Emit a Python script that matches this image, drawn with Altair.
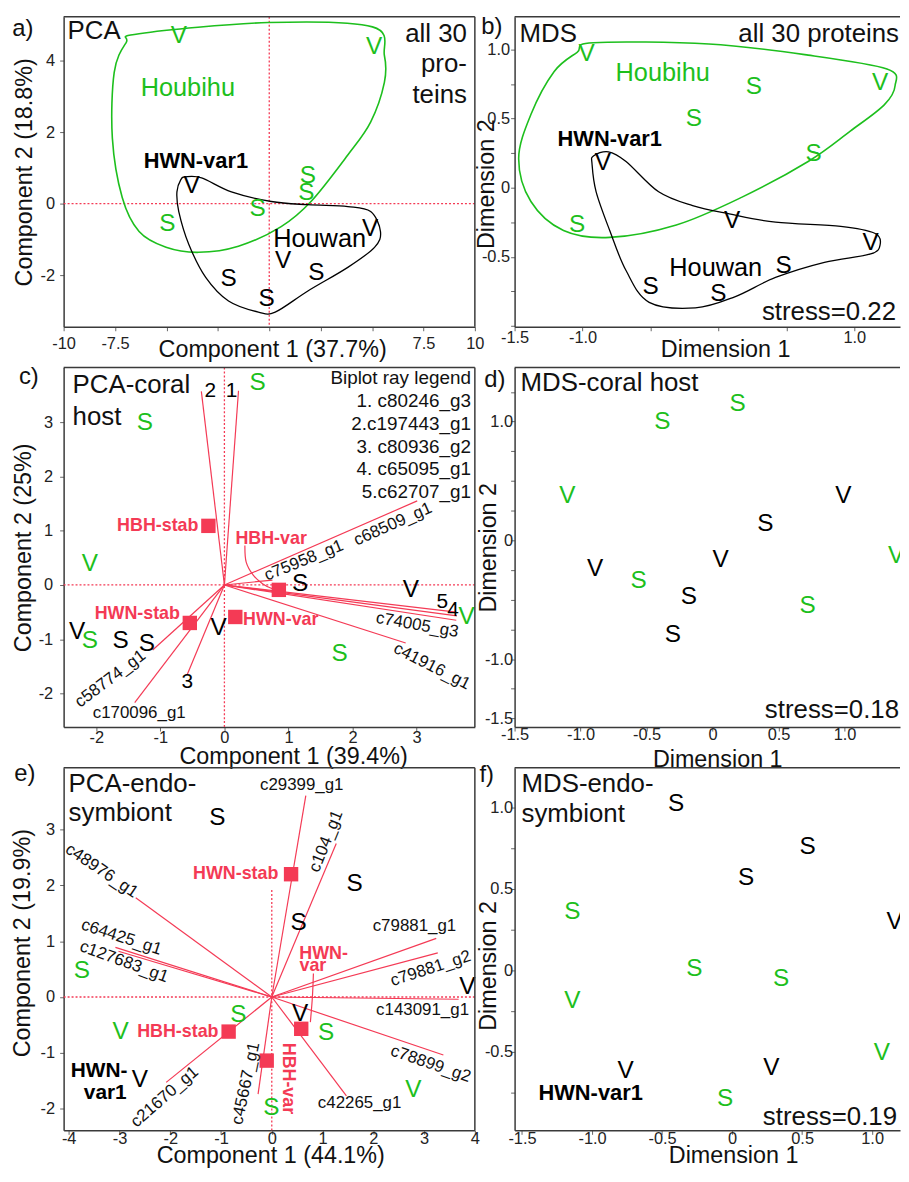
import altair as alt
import pandas as pd

FONT = "Liberation Sans, Arial, sans-serif"
GREEN = "#1dbf1d"
RED = "#f43a55"
INK = "#111111"

LW, RW = 414, 388
H1, H2, H3 = 312, 362, 365

GRP = ["Houbihu"] * 6 + ["Houwan"] * 6

# ---------------- panel a : PCA all 30 proteins
a_lab = ["V", "V", "S", "S", "S", "S", "V", "V", "V", "S", "S", "S"]
a_x = [-4.40, 5.10, 1.88, 1.80, -0.56, -4.96, -3.78, 4.91, 0.68, -1.98, 2.29, -0.13]
a_y = [4.69, 4.37, 0.76, 0.30, -0.14, -0.56, 0.48, -0.72, -1.60, -2.11, -1.93, -2.67]
a_green_x = [-6.33, -0.05, 5.02, 5.60, 5.60, 4.93, 3.82, 2.03, 0.58, -1.50, -3.43, -5.02, -6.33, -7.15, -7.63, -7.54, -6.96]
a_green_y = [4.75, 5.06, 4.94, 4.14, 3.39, 2.28, 1.36, 0.06, -0.64, -1.19, -1.36, -1.22, -0.78, 0.17, 1.83, 3.67, 4.50]
a_black_x = [-4.06, -3.29, -1.84, 0.10, 1.88, 3.82, 4.93, 5.41, 5.12, 3.82, 1.88, 0.29, -0.53, -1.98, -3.09, -3.91, -4.40, -4.49, -4.30]
a_black_y = [0.75, 0.72, 0.33, 0.06, -0.03, -0.08, -0.22, -0.78, -1.22, -1.78, -2.44, -3.03, -3.03, -2.72, -2.06, -1.14, -0.22, 0.33, 0.67]
a_ann = ["Houbihu", "HWN-var1", "Houwan"]
a_ann_x = [-3.96, -3.57, 2.45]
a_ann_y = [3.22, 1.19, -1.00]

# ---------------- panel b : MDS all 30 proteins
b_lab = ["V", "S", "V", "S", "S", "S", "V", "V", "V", "S", "S", "S"]
b_x = [-0.97, 0.26, 1.19, -0.18, 0.70, -1.04, -0.85, 0.10, 1.12, 0.48, -0.50, 0.00]
b_y = [0.97, 0.73, 0.76, 0.50, 0.24, -0.27, 0.18, -0.24, -0.40, -0.57, -0.72, -0.77]
b_green_x = [-1.04, -0.92, -0.07, 0.66, 1.24, 1.30, 1.22, 0.97, 0.66, 0.17, -0.31, -0.80, -1.14, -1.38, -1.47, -1.38, -1.21]
b_green_y = [0.98, 1.05, 1.04, 0.96, 0.86, 0.74, 0.60, 0.41, 0.19, -0.07, -0.27, -0.36, -0.31, -0.10, 0.21, 0.53, 0.84]
b_black_x = [-0.92, -0.81, -0.68, -0.44, -0.19, 0.08, 0.42, 0.90, 1.15, 1.19, 1.12, 0.78, 0.42, 0.12, -0.17, -0.51, -0.68, -0.80, -0.90, -0.93]
b_black_y = [0.23, 0.26, 0.19, -0.03, -0.13, -0.19, -0.25, -0.28, -0.33, -0.41, -0.48, -0.54, -0.65, -0.79, -0.87, -0.83, -0.60, -0.31, -0.03, 0.17]
b_ann = ["Houbihu", "HWN-var1", "Houwan"]
b_ann_x = [-0.41, -0.80, -0.02]
b_ann_y = [0.83, 0.35, -0.58]

# ---------------- panel c : PCA coral host
c_lab = ["S", "S", "V", "S", "S", "V", "V", "S", "S", "V", "S", "V"]
c_x = [0.52, -1.24, -2.10, -2.10, 1.80, 3.78, -2.30, -1.62, -1.21, -0.09, 1.18, 2.91]
c_y = [3.72, 2.99, 0.39, -1.04, -1.28, -0.59, -0.86, -1.04, -1.09, -0.80, 0.02, -0.10]
c_ray_x = [0.22, -0.36, 3.01, 0.75, 3.62, 3.63, 3.62, 2.83, -1.12, -1.40, -0.58]
c_ray_y = [3.58, 3.57, 1.55, 0.09, -0.50, -0.57, -0.65, -1.07, -1.20, -2.17, -1.65]
c_num = ["1", "2", "5", "4", "3"]
c_num_x = [0.11, -0.22, 3.40, 3.57, -0.58]
c_num_y = [3.57, 3.57, -0.31, -0.46, -1.79]
c_name = ["c68509_g1", "c75958_g1", "c74005_g3", "c41916_g1", "c58774_g1", "c170096_g1"]
c_name_x = [2.63, 1.24, 3.01, 3.24, -1.78, -1.33]
c_name_y = [1.12, 0.45, -0.74, -1.50, -1.73, -2.37]
c_name_ang = [336, 338, 10, 27, 323, 0]
c_sq = ["HBH-stab", "HBH-var", "HWN-stab", "HWN-var"]
c_sq_x = [-0.25, 0.85, -0.54, 0.17]
c_sq_y = [1.09, -0.09, -0.70, -0.59]
c_sq_lab_x = [-1.04, 0.73, -1.36, 0.88]
c_sq_lab_y = [1.09, 0.85, -0.53, -0.65]
c_lead_x = [0.32, 0.34, 0.45, 0.60, 0.75]
c_lead_y = [0.73, 0.42, 0.18, 0.02, -0.07]
c_legend = ["Biplot ray legend", "1. c80246_g3", "2.c197443_g1", "3. c80936_g2", "4. c65095_g1", "5.c62707_g1"]

# ---------------- panel d : MDS coral host
d_lab = ["S", "S", "V", "S", "S", "V", "V", "S", "S", "V", "S", "V"]
d_x = [-0.38, 0.19, -1.10, -0.56, 0.72, 1.39, -0.89, -0.18, -0.30, 0.06, 0.40, 0.99]
d_y = [1.00, 1.15, 0.37, -0.34, -0.55, -0.13, -0.24, -0.48, -0.80, -0.17, 0.14, 0.37]

# ---------------- panel e : PCA endosymbiont
e_lab = ["S", "S", "S", "V", "V", "S", "S", "S", "S", "V", "V", "V"]
e_x = [-3.74, -0.66, 1.07, -2.98, 2.79, -0.01, -1.07, 1.63, 0.53, 3.85, 0.56, -2.60]
e_y = [0.47, -0.33, -0.65, -0.63, -1.66, -1.99, 3.21, 2.02, 1.33, 0.17, -0.30, -1.48]
e_ray = ["c29399_g1", "c104_g1", "c48976_g1", "c64425_g1", "c127683_g1", "c79881_g1",
         "c79881_g2", "c143091_g1", "c78899_g2", "c42265_g1", "c45667_g1", "c21670_g1"]
e_ray_x = [0.67, 1.27, -2.68, -3.08, -3.02, 3.24, 3.27, 3.68, 3.38, 1.47, -0.27, -2.08]
e_ray_y = [3.61, 2.75, 1.78, 0.89, 0.82, 1.05, 0.79, -0.04, -1.04, -1.77, -1.74, -1.53]
e_lab_x = [0.59, 1.07, -3.35, -2.96, -2.91, 2.81, 3.13, 2.97, 3.13, 1.73, -0.51, -2.11]
e_lab_y = [3.80, 2.79, 2.26, 1.07, 0.63, 1.27, 0.51, -0.23, -1.20, -1.90, -1.55, -1.79]
e_lab_ang = [0, 292, 34, 18, 20, 0, 342, 0, 19, 0, 282, 319]
e_sq_x = [0.38, 0.58, -0.85, -0.10]
e_sq_y = [2.20, -0.57, -0.62, -1.14]
e_red = ["HWN-stab", "HWN-", "var", "HBH-stab", "HBH-var"]
e_red_x = [-0.71, 1.02, 0.81, -1.85, 0.32]
e_red_y = [2.20, 0.77, 0.55, -0.62, -1.46]
e_red_ang = [0, 0, 0, 0, 90]
e_lead_x = [0.82, 0.80, 0.76]
e_lead_y = [0.42, 0.00, -0.45]
e_bold = ["HWN-", "var1"]
e_bold_x = [-3.40, -3.28]
e_bold_y = [-1.32, -1.73]

# ---------------- panel f : MDS endosymbiont
f_lab = ["S", "S", "S", "V", "V", "S", "S", "S", "S", "V", "V", "V"]
f_x = [-1.14, -0.27, 0.35, -1.14, 1.07, -0.05, -0.40, 0.54, 0.10, 1.16, -0.76, 0.28]
f_y = [0.36, 0.01, -0.05, -0.19, -0.51, -0.79, 1.02, 0.76, 0.57, 0.30, -0.62, -0.60]


# ================= helpers
def lexpr(d):
    parts = [f"datum.value == {v} ? '{s}'" for v, s in d.items()]
    return " : ".join(parts) + " : ''"


def xaxis(vals, labs, title, tx, ty, pad):
    return alt.Axis(values=vals, labelExpr=lexpr(labs), title=title, titleX=tx, titleY=ty,
                    titleBaseline="middle", titleAlign="center", labelPadding=pad,
                    labelFlush=False, labelOverlap=False, grid=False)


def yaxis(vals, labs, title, tx, pad, ty=None):
    kw = dict(values=vals, labelExpr=lexpr(labs), title=title, titleX=tx,
              titleBaseline="middle", titleAlign="center", labelPadding=pad,
              labelFlush=False, labelOverlap=False, grid=False)
    if ty is not None:
        kw["titleY"] = ty
    return alt.Axis(**kw)


class Panel:
    def __init__(self, xdom, ydom, xax, yax, w, h, clip=False):
        self.xdom, self.ydom, self.xax, self.yax, self.w, self.h = xdom, ydom, xax, yax, w, h
        self.clip = clip
        self.layers = []

    def X(self, f):
        return alt.X(f, type="quantitative", axis=self.xax,
                     scale=alt.Scale(domain=self.xdom, nice=False, zero=False))

    def Y(self, f):
        return alt.Y(f, type="quantitative", axis=self.yax,
                     scale=alt.Scale(domain=self.ydom, nice=False, zero=False))

    def points(self, lab, x, y, size=24.5):
        df = pd.DataFrame({"lab": lab, "grp": GRP, "x": x, "y": y})
        self.layers.append(alt.Chart(df).mark_text(font=FONT, fontSize=size, baseline="middle", align="center",
                                                   clip=self.clip).encode(
            x=self.X("x"), y=self.Y("y"), text="lab:N",
            color=alt.Color("grp:N", scale=alt.Scale(domain=["Houbihu", "Houwan"], range=[GREEN, "#000000"]), legend=None)))

    def hull(self, x, y, color, width=1.5):
        df = pd.DataFrame({"x": x, "y": y, "i": list(range(len(x)))})
        self.layers.append(alt.Chart(df).mark_line(interpolate="cardinal-closed", color=color, strokeWidth=width).encode(
            x=self.X("x"), y=self.Y("y"), order="i:Q"))

    def curve(self, x, y, color, width=1.2):
        df = pd.DataFrame({"x": x, "y": y, "i": list(range(len(x)))})
        self.layers.append(alt.Chart(df).mark_line(interpolate="cardinal", color=color, strokeWidth=width).encode(
            x=self.X("x"), y=self.Y("y"), order="i:Q"))

    def zero_lines(self, vlo=None, vhi=None):
        self.layers.append(alt.Chart(pd.DataFrame({"v": [0]})).mark_rule(color=RED, strokeWidth=1.3, strokeDash=[2, 2]).encode(
            y=self.Y("v")))
        if vlo is None:
            self.layers.append(alt.Chart(pd.DataFrame({"v": [0]})).mark_rule(color=RED, strokeWidth=1.3, strokeDash=[2, 2]).encode(
                x=self.X("v")))
        else:
            df = pd.DataFrame({"v": [0], "lo": [vlo], "hi": [vhi]})
            self.layers.append(alt.Chart(df).mark_rule(color=RED, strokeWidth=1.3, strokeDash=[2, 2]).encode(
                x=self.X("v"), y=self.Y("lo"), y2="hi"))

    def rays(self, x, y):
        df = pd.DataFrame({"x0": [0.0] * len(x), "y0": [0.0] * len(x), "x1": x, "y1": y})
        self.layers.append(alt.Chart(df).mark_rule(color=RED, strokeWidth=1.2).encode(
            x=self.X("x0"), y=self.Y("y0"), x2="x1", y2="y1"))

    def squares(self, x, y):
        df = pd.DataFrame({"x": x, "y": y})
        self.layers.append(alt.Chart(df).mark_square(color=RED, opacity=1, size=210).encode(
            x=self.X("x"), y=self.Y("y")))

    def dtext(self, txt, x, y, size, color=INK, weight="normal", ang=None):
        df = pd.DataFrame({"t": txt, "x": x, "y": y, "a": ang if ang is not None else [0] * len(txt)})
        self.layers.append(alt.Chart(df).mark_text(font=FONT, fontSize=size, fontWeight=weight, color=color,
                                                   align="center", baseline="middle").encode(
            x=self.X("x"), y=self.Y("y"), text="t:N", angle=alt.Angle("a:Q", scale=None)))

    def ptext(self, lines, px, py, size, align="left", weight="normal", color=INK, lh=None):
        kw = dict(text=lines, font=FONT, fontSize=size, fontWeight=weight, color=color, align=align, baseline="middle")
        if lh is not None:
            kw["lineHeight"] = lh
        self.layers.append(alt.Chart(alt.Data(values=[{}])).mark_text(**kw).encode(
            x=alt.value(px), y=alt.value(py)))

    def frame(self, right=True):
        self.layers.append(alt.Chart(alt.Data(values=[{}])).mark_rule(color="#3a3a3a", strokeWidth=1.5).encode(
            x=alt.value(0), x2=alt.value(self.w), y=alt.value(0)))
        if right:
            self.layers.append(alt.Chart(alt.Data(values=[{}])).mark_rule(color="#3a3a3a", strokeWidth=1.5).encode(
                x=alt.value(self.w), y=alt.value(0), y2=alt.value(self.h)))

    def chart(self):
        return alt.layer(*self.layers).properties(width=self.w, height=self.h)


# ================= panel a
pa = Panel([-10, 10], [-3.44, 5.22],
           xaxis([-10, -7.5, -5, -2.5, 0, 2.5, 5, 7.5, 10], {-10: "-10", -7.5: "-7.5", 7.5: "7.5", 10: "10"},
                 "Component 1  (37.7%)", 210, 23, 5),
           yaxis([-2, 0, 2, 4], {-2: "-2", 0: "0", 2: "2", 4: "4"}, "Component 2  (18.8%)", -39, 5),
           LW, H1)
pa.zero_lines()
pa.hull(a_green_x, a_green_y, GREEN, 1.6)
pa.hull(a_black_x, a_black_y, "#000000", 1.3)
pa.points(a_lab, a_x, a_y)
pa.dtext(a_ann[:1], a_ann_x[:1], a_ann_y[:1], 25.5, GREEN)
pa.dtext(a_ann[1:2], a_ann_x[1:2], a_ann_y[1:2], 22, "#000000", "bold")
pa.dtext(a_ann[2:], a_ann_x[2:], a_ann_y[2:], 25.5, "#000000")
pa.ptext(["PCA"], 4, 14, 26)
pa.ptext(["all 30", "pro-", "teins"], 406, 17, 26, align="right", lh=31)
pa.ptext(["a)"], -41, 12, 24, align="center")
pa.frame(True)

# ================= panel b
q25 = [-1.0, -0.75, -0.5, -0.25, 0, 0.25, 0.5, 0.75, 1.0]
pb = Panel([-1.5, 1.336], [-1.007, 1.237],
           xaxis([-1.5, -1.0, -0.5, 0, 0.5, 1.0], {-1.5: "-1.5", -1.0: "-1.0", 1.0: "1.0"},
                 "Dimension 1", 212, 23, -1),
           yaxis(q25, {1.0: "1.0", 0.5: "0.5", 0: "0", -0.5: "-0.5"}, "Dimension 2", -28, 1, 168),
           RW, H1, clip=True)
pb.hull(b_green_x, b_green_y, GREEN, 1.6)
pb.hull(b_black_x, b_black_y, "#000000", 1.3)
pb.points(b_lab, b_x, b_y)
pb.dtext(b_ann[:1], b_ann_x[:1], b_ann_y[:1], 25.5, GREEN)
pb.dtext(b_ann[1:2], b_ann_x[1:2], b_ann_y[1:2], 22, "#000000", "bold")
pb.dtext(b_ann[2:], b_ann_x[2:], b_ann_y[2:], 25.5, "#000000")
pb.ptext(["MDS"], 5, 17, 26)
pb.ptext(["all 30 proteins"], 387, 17, 26, align="right")
pb.ptext(["stress=0.22"], 384, 297, 26, align="right")
pb.ptext(["b)"], -23, 10, 24, align="center")
pb.frame(False)

# ================= panel c
pc = Panel([-2.51, 3.91], [-2.62, 4.01],
           xaxis([-2, -1, 0, 1, 2, 3], {-2: "-2", -1: "-1", 0: "0", 1: "1", 2: "2", 3: "3"},
                 "Component 1  (39.4%)", 231, 30, -1.5),
           yaxis([-2, -1, 0, 1, 2, 3], {-2: "-2", -1: "-1", 0: "0", 1: "1", 2: "2", 3: "3"},
                 "Component 2  (25%)", -40, 7),
           LW, H2)
pc.zero_lines()
pc.rays(c_ray_x, c_ray_y)
pc.curve(c_lead_x, c_lead_y, RED, 1.2)
pc.squares(c_sq_x, c_sq_y)
pc.dtext(c_sq, c_sq_lab_x, c_sq_lab_y, 18, RED, "bold")
pc.dtext(c_num, c_num_x, c_num_y, 21, "#000000")
pc.dtext(c_name, c_name_x, c_name_y, 17, INK, ang=c_name_ang)
pc.points(c_lab, c_x, c_y)
pc.ptext(["PCA-coral", "host"], 9, 18, 26, lh=32)
pc.ptext(c_legend, 410, 11, 19, align="right", lh=22.9)
pc.ptext(["c)"], -35, 10, 24, align="center")
pc.frame(True)

# ================= panel d
pd_ = Panel([-1.50, 1.42], [-1.573, 1.456],
            xaxis([-1.5, -1.0, -0.5, 0, 0.5, 1.0],
                  {-1.5: "-1.5", -1.0: "-1.0", -0.5: "-0.5", 0: "0", 0.5: "0.5", 1.0: "1.0"},
                  "Dimension 1", 204, 33, -4),
            yaxis([-1.5, -1.25, -1.0, -0.75, -0.5, -0.25, 0, 0.25, 0.5, 0.75, 1.0, 1.25],
                  {1.0: "1.0", 0: "0", -1.0: "-1.0", -1.5: "-1.5"}, "Dimension 2", -26, -2),
            RW, H2, clip=True)
pd_.points(d_lab, d_x, d_y)
pd_.ptext(["MDS-coral host"], 6, 16, 26)
pd_.ptext(["stress=0.18"], 387, 345, 26, align="right")
pd_.ptext(["d)"], -20, 13, 24, align="center")
pd_.frame(False)

# ================= panel e
pe = Panel([-4.10, 4.00], [-2.39, 4.107],
           xaxis([-4, -3, -2, -1, 0, 1, 2, 3, 4],
                 {-4: "-4", -3: "-3", -2: "-2", -1: "-1", 0: "0", 1: "1", 2: "2", 3: "3", 4: "4"},
                 "Component 1  (44.1%)", 208, 25, -4),
           yaxis([-2, -1, 0, 1, 2, 3], {-2: "-2", -1: "-1", 0: "0", 1: "1", 2: "2", 3: "3"},
                 "Component 2  (19.9%)", -41, 5, 176),
           LW, H3)
pe.zero_lines(-2.39, 1.93)
pe.rays(e_ray_x, e_ray_y)
pe.curve(e_lead_x, e_lead_y, RED, 1.2)
pe.squares(e_sq_x, e_sq_y)
pe.dtext(e_red, e_red_x, e_red_y, 18, RED, "bold", ang=e_red_ang)
pe.dtext(e_ray, e_lab_x, e_lab_y, 17, INK, ang=e_lab_ang)
pe.points(e_lab, e_x, e_y)
pe.dtext(e_bold, e_bold_x, e_bold_y, 21, "#000000", "bold")
pe.ptext(["PCA-endo-", "symbiont"], 5, 16, 26, lh=30)
pe.ptext(["e)"], -39, 6, 24, align="center")
pe.frame(True)

# ================= panel f
pf = Panel([-1.553, 1.199], [-0.982, 1.244],
           xaxis([-1.5, -1.0, -0.5, 0, 0.5, 1.0],
                 {-1.5: "-1.5", -1.0: "-1.0", -0.5: "-0.5", 0: "0", 0.5: "0.5", 1.0: "1.0"},
                 "Dimension 1", 220, 25, -4),
           yaxis(q25, {1.0: "1.0", 0.5: "0.5", 0: "0", -0.5: "-0.5", -1.0: "-1.0"}, "Dimension 2", -26, -2, 199),
           RW, H3, clip=True)
pf.points(f_lab, f_x, f_y)
pf.dtext(["HWN-var1"], [-1.01], [-0.75], 22, "#000000", "bold")
pf.ptext(["MDS-endo-", "symbiont"], 7, 16, 26, lh=31)
pf.ptext(["stress=0.19"], 385, 352, 26, align="right")
pf.ptext(["f)"], -28, 7, 24, align="center")
pf.frame(False)

chart = alt.concat(pa.chart(), pb.chart(), pc.chart(), pd_.chart(), pe.chart(), pf.chart(),
                   columns=2, spacing={"row": 41, "column": 40}, bounds="flush").properties(
    padding={"left": 3, "top": 3, "right": 0, "bottom": 0}
).configure_view(stroke=None).configure_axis(
    domainColor="#3a3a3a", domainWidth=1.5, tickColor="#666666", tickSize=4, tickWidth=1,
    labelFont=FONT, labelFontSize=16.5, labelColor="#222222",
    titleFont=FONT, titleFontSize=23.5, titleFontWeight="normal", titleColor="#111111")

chart.save("out.html", embed_options={"renderer": "svg", "actions": False})
